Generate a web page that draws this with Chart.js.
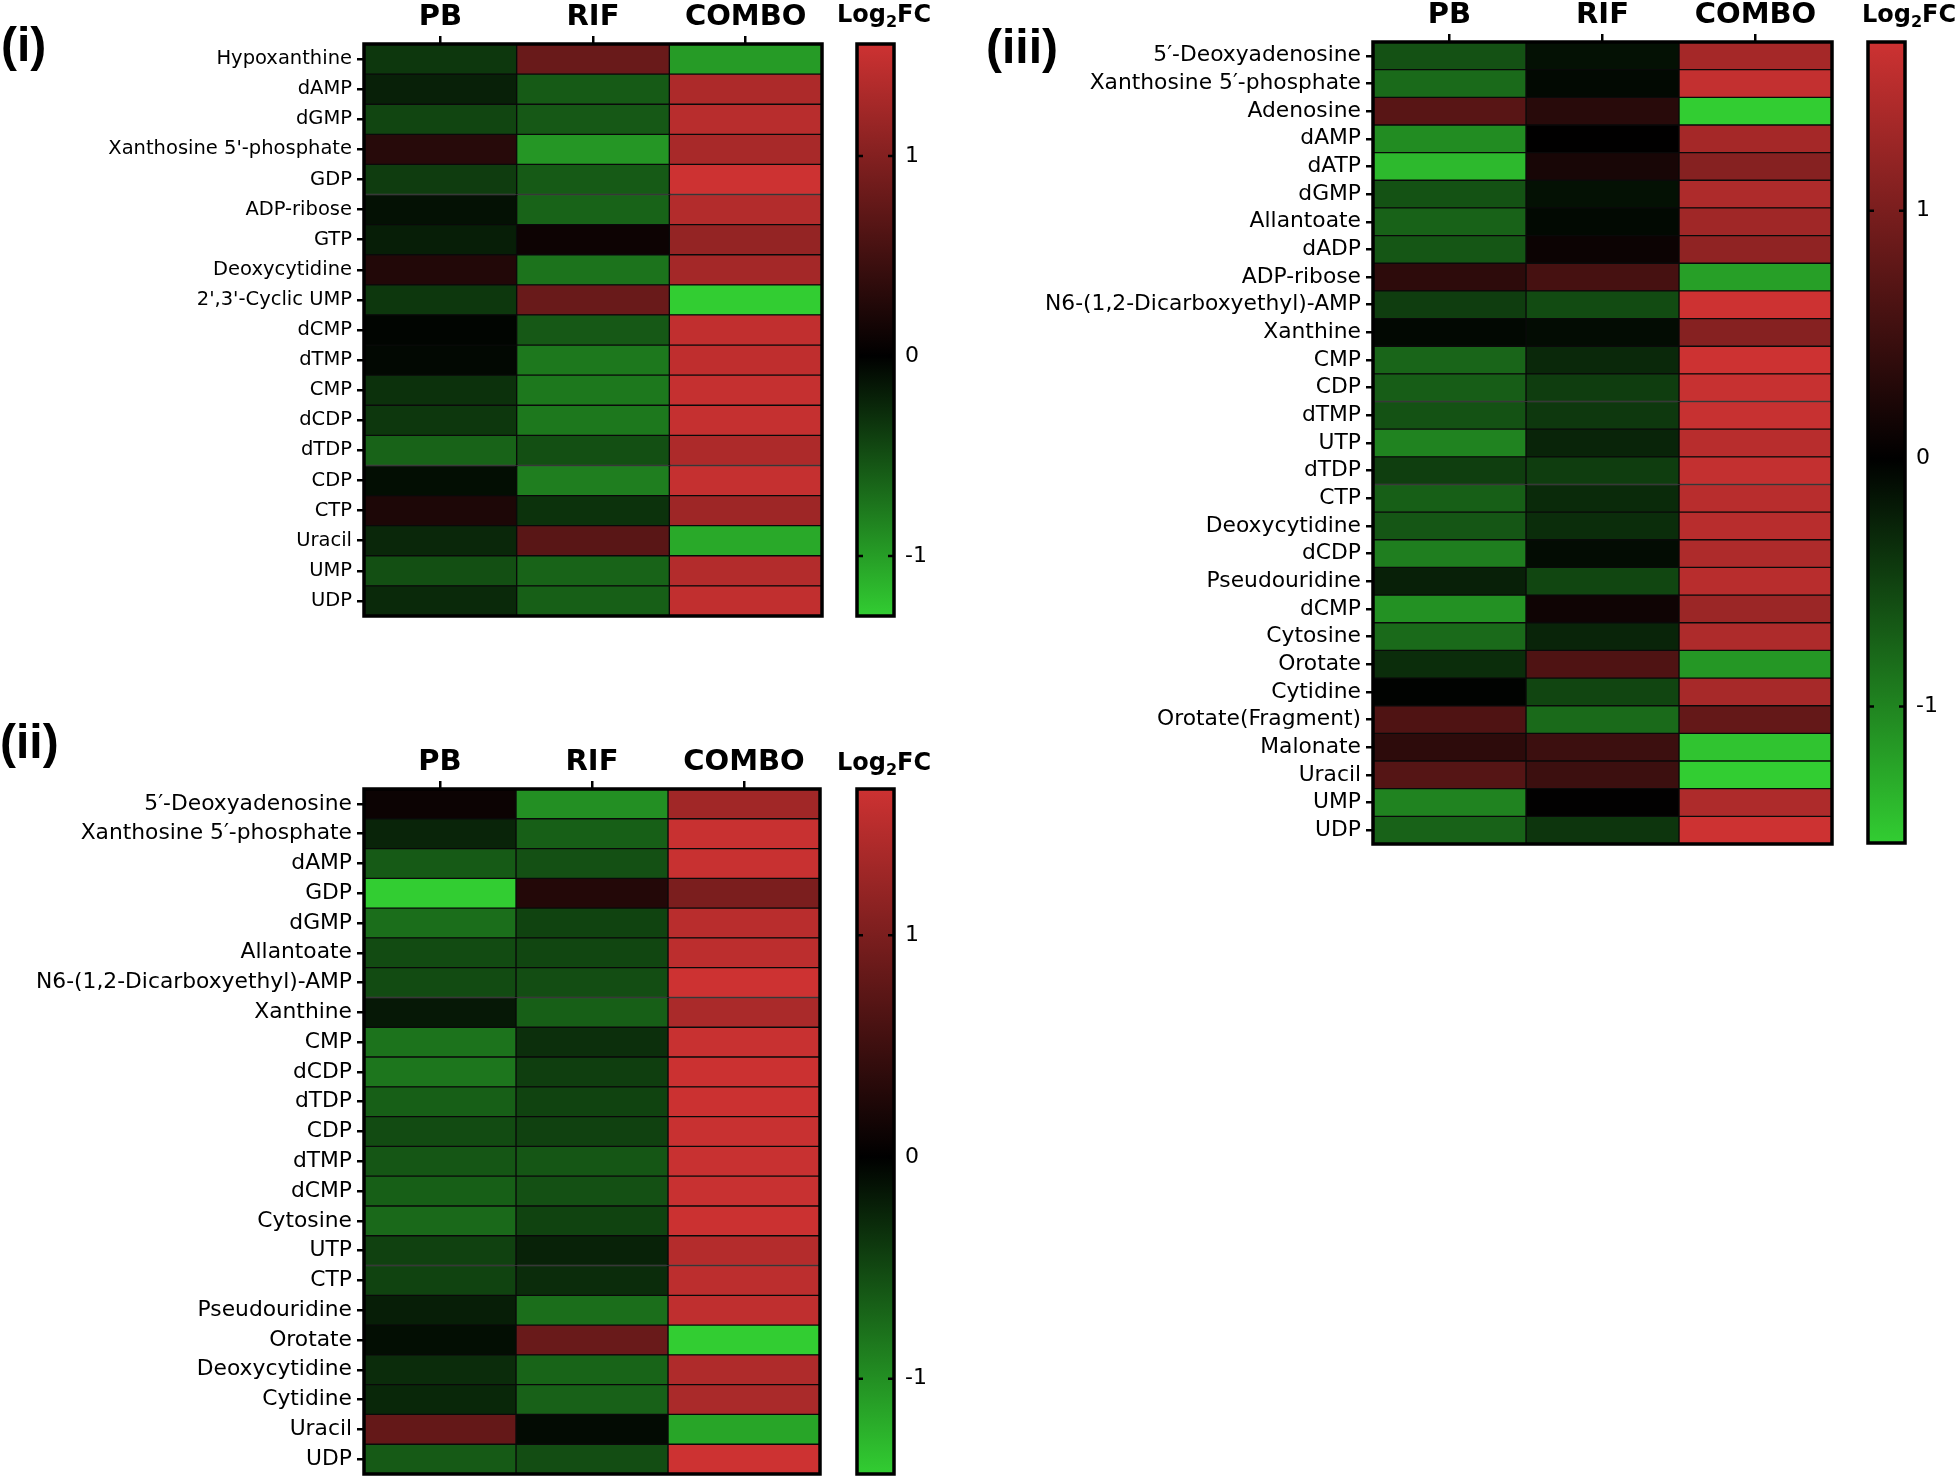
<!DOCTYPE html>
<html>
<head>
<meta charset="utf-8">
<title>Log2FC heatmaps</title>
<script src="https://cdn.jsdelivr.net/npm/chart.js@4.4.1/dist/chart.umd.min.js"></script>
<style>
  html, body { margin: 0; padding: 0; background: #fff; }
  #page { position: relative; width: 1959px; height: 1478px; overflow: hidden; }
  canvas { position: absolute; }
  .tag { position: absolute; font: bold 48px 'Liberation Sans', Arial, sans-serif; line-height: 48px; z-index: 2; }
  .fc { position: absolute; font: bold 24px 'DejaVu Sans', sans-serif; line-height: 24px; z-index: 2; white-space: nowrap; }
  .fc sub { font-size: 16px; vertical-align: -5px; line-height: 0; }
</style>
</head>
<body>
<div id="page">
  <canvas id="heat1" width="826" height="630" style="left:0;top:0"></canvas>
  <canvas id="bar1" width="94" height="630" style="left:850px;top:0"></canvas>
  <canvas id="heat2" width="824" height="738" style="left:0;top:740px"></canvas>
  <canvas id="bar2" width="94" height="738" style="left:850px;top:740px"></canvas>
  <canvas id="heat3" width="836" height="856" style="left:1000px;top:0"></canvas>
  <canvas id="bar3" width="94" height="856" style="left:1861px;top:0"></canvas>

  <div class="tag" style="left:1px;top:21px">(i)</div>
  <div class="tag" style="left:0;top:718px">(ii)</div>
  <div class="tag" style="left:986px;top:23px">(iii)</div>
  <div class="fc" style="left:837px;top:2px">Log<sub>2</sub>FC</div>
  <div class="fc" style="left:837px;top:750px">Log<sub>2</sub>FC</div>
  <div class="fc" style="left:1862px;top:2px">Log<sub>2</sub>FC</div>
</div>
<script>
// columns shared by all three panels
const columns = ['PB', 'RIF', 'COMBO'];
const barTicks = [-1, 0, 1];

// panel (i)
const rows1 = ['Hypoxanthine', 'dAMP', 'dGMP', "Xanthosine 5'-phosphate", 'GDP', 'ADP-ribose', 'GTP',
  'Deoxycytidine', "2',3'-Cyclic UMP", 'dCMP', 'dTMP', 'CMP', 'dCDP', 'dTDP', 'CDP', 'CTP', 'Uracil', 'UMP', 'UDP'];
const pb1 = [-0.35, -0.2, -0.44, 0.3, -0.38, -0.11, -0.19, 0.26, -0.35, -0.03, -0.05, -0.31, -0.35, -0.63, -0.09, 0.22, -0.25, -0.5, -0.26];
const rif1 = [0.8, -0.57, -0.56, -0.95, -0.57, -0.63, 0.1, -0.73, 0.8, -0.56, -0.76, -0.76, -0.76, -0.5, -0.8, -0.32, 0.68, -0.63, -0.6];
const combo1 = [-0.98, 1.32, 1.4, 1.28, 1.56, 1.36, 1.13, 1.25, -1.3, 1.47, 1.45, 1.5, 1.5, 1.32, 1.5, 1.2, -1.07, 1.36, 1.47];
const range1 = [-1.3, 1.56];

// panel (ii)
const rows2 = ['5′-Deoxyadenosine', 'Xanthosine 5′-phosphate', 'dAMP', 'GDP', 'dGMP', 'Allantoate',
  'N6-(1,2-Dicarboxyethyl)-AMP', 'Xanthine', 'CMP', 'dCDP', 'dTDP', 'CDP', 'dTMP', 'dCMP', 'Cytosine', 'UTP',
  'CTP', 'Pseudouridine', 'Orotate', 'Deoxycytidine', 'Cytidine', 'Uracil', 'UDP'];
const pb2 = [0.1, -0.25, -0.63, -1.43, -0.77, -0.52, -0.52, -0.17, -0.8, -0.82, -0.66, -0.52, -0.6, -0.66, -0.73, -0.45, -0.47, -0.21, -0.1, -0.31, -0.27, 0.81, -0.63];
const rif2 = [-1.0, -0.66, -0.56, 0.28, -0.47, -0.49, -0.54, -0.66, -0.33, -0.43, -0.47, -0.45, -0.6, -0.56, -0.47, -0.24, -0.31, -0.77, 0.85, -0.7, -0.68, -0.08, -0.54];
const combo2 = [1.3, 1.62, 1.62, 1.0, 1.5, 1.52, 1.66, 1.38, 1.62, 1.64, 1.64, 1.62, 1.62, 1.62, 1.64, 1.46, 1.52, 1.55, -1.43, 1.42, 1.38, -1.15, 1.66];
const range2 = [-1.43, 1.66];

// panel (iii)
const rows3 = ['5′-Deoxyadenosine', 'Xanthosine 5′-phosphate', 'Adenosine', 'dAMP', 'dATP', 'dGMP', 'Allantoate',
  'dADP', 'ADP-ribose', 'N6-(1,2-Dicarboxyethyl)-AMP', 'Xanthine', 'CMP', 'CDP', 'dTMP', 'UTP', 'dTDP', 'CTP',
  'Deoxycytidine', 'dCDP', 'Pseudouridine', 'dCMP', 'Cytosine', 'Orotate', 'Cytidine', 'Orotate(Fragment)',
  'Malonate', 'Uracil', 'UMP', 'UDP'];
const pb3 = [-0.61, -0.8, 0.72, -1.06, -1.4, -0.62, -0.74, -0.65, 0.37, -0.46, -0.06, -0.76, -0.7, -0.62, -0.99, -0.47, -0.72, -0.65, -0.95, -0.24, -1.1, -0.8, -0.34, -0.02, 0.65, 0.37, 0.7, -0.99, -0.74];
const rif3 = [-0.13, -0.07, 0.33, 0.01, 0.2, -0.13, -0.07, 0.1, 0.57, -0.57, -0.09, -0.3, -0.46, -0.42, -0.27, -0.46, -0.32, -0.34, -0.09, -0.53, 0.12, -0.27, 0.65, -0.52, -0.8, 0.49, 0.49, 0.02, -0.4];
const combo3 = [1.35, 1.6, -1.55, 1.35, 1.1, 1.43, 1.31, 1.18, -1.2, 1.68, 1.1, 1.68, 1.63, 1.63, 1.51, 1.6, 1.51, 1.51, 1.43, 1.51, 1.27, 1.43, -1.14, 1.37, 0.82, -1.48, -1.55, 1.43, 1.68];
const range3 = [-1.55, 1.68];

const RED = [205, 50, 50];
const GREEN = [50, 205, 50];

Chart.defaults.font.family = "'DejaVu Sans', sans-serif";
Chart.defaults.color = '#000';

// green -> black -> red, black sits at 0
function heatColor(v, lo, hi) {
  const c = v >= 0 ? RED : GREEN;
  const t = Math.min(1, v >= 0 ? v / hi : v / lo);
  return `rgb(${Math.round(c[0] * t)},${Math.round(c[1] * t)},${Math.round(c[2] * t)})`;
}

// no extra room for the end labels, the plot area is set by hand
function noEdgePadding(s) {
  s.paddingTop = 0;
  s.paddingBottom = 0;
  s.paddingLeft = 0;
  s.paddingRight = 0;
}

// thick black frame round the plot area
const framePlugin = {
  id: 'frame',
  afterDatasetsDraw(chart) {
    const { ctx, chartArea: a } = chart;
    ctx.save();
    ctx.strokeStyle = '#000';
    ctx.lineWidth = 3.5;
    ctx.strokeRect(a.left, a.top, a.right - a.left, a.bottom - a.top);
    ctx.restore();
  }
};

// little inward dashes on both sides of the colour bar
const barTickPlugin = {
  id: 'barTicks',
  afterDatasetsDraw(chart) {
    const { ctx, chartArea: a, scales } = chart;
    ctx.save();
    ctx.strokeStyle = '#000';
    ctx.lineWidth = 2.5;
    scales.y.ticks.forEach((t) => {
      const y = scales.y.getPixelForValue(t.value);
      ctx.beginPath();
      ctx.moveTo(a.left, y); ctx.lineTo(a.left + 6, y);
      ctx.moveTo(a.right - 6, y); ctx.lineTo(a.right, y);
      ctx.stroke();
    });
    ctx.restore();
  }
};

function drawHeatmap(id, rows, values, range, opts) {
  const [lo, hi] = range;
  return new Chart(document.getElementById(id), {
    type: 'bar',
    data: {
      labels: rows,
      datasets: columns.map((col, j) => ({
        label: col,
        data: rows.map(() => [j, j + 1]),
        backgroundColor: values[j].map((v) => heatColor(v, lo, hi)),
        borderColor: '#0a0a0a',
        borderWidth: 1,
        borderSkipped: false,
        grouped: false,
        barPercentage: 1,
        categoryPercentage: 1
      }))
    },
    options: {
      indexAxis: 'y',
      responsive: false,
      animation: false,
      devicePixelRatio: 1,
      events: [],
      layout: { padding: { left: 0, top: 0, right: 4, bottom: opts.bottom } },
      plugins: { legend: { display: false }, tooltip: { enabled: false } },
      scales: {
        x: {
          type: 'linear',
          position: 'top',
          min: 0,
          max: 3,
          afterBuildTicks: (s) => { s.ticks = [0.5, 1.5, 2.5].map((v) => ({ value: v })); },
          afterFit: (s) => { s.height = opts.top; noEdgePadding(s); },
          ticks: {
            callback: (v) => columns[Math.floor(v)],
            font: { size: 29, weight: 'bold' },
            color: '#000',
            padding: 1,
            maxRotation: 0
          },
          grid: { drawOnChartArea: false, tickLength: 8, color: '#000', lineWidth: 2.5 },
          border: { display: false }
        },
        y: {
          afterFit: (s) => { s.width = opts.left; noEdgePadding(s); },
          ticks: { font: { size: opts.font }, color: '#000', padding: 5, autoSkip: false },
          grid: { offset: false, drawOnChartArea: false, tickLength: 7, color: '#000', lineWidth: 2.5 },
          border: { display: false }
        }
      }
    },
    plugins: [framePlugin]
  });
}

function drawColorbar(id, range, opts) {
  const [lo, hi] = range;
  return new Chart(document.getElementById(id), {
    type: 'bar',
    data: {
      labels: ['Log2FC'],
      datasets: [{
        data: [[lo, hi]],
        backgroundColor: (c) => {
          const { chart } = c;
          if (!chart.chartArea) return '#000';
          const y = chart.scales.y;
          const g = chart.ctx.createLinearGradient(0, y.getPixelForValue(lo), 0, y.getPixelForValue(hi));
          g.addColorStop(0, `rgb(${GREEN.join(',')})`);
          g.addColorStop((0 - lo) / (hi - lo), '#000');
          g.addColorStop(1, `rgb(${RED.join(',')})`);
          return g;
        },
        borderWidth: 0,
        barPercentage: 1,
        categoryPercentage: 1
      }]
    },
    options: {
      responsive: false,
      animation: false,
      devicePixelRatio: 1,
      events: [],
      layout: { padding: { left: 7, top: opts.top, right: 0, bottom: opts.bottom } },
      plugins: { legend: { display: false }, tooltip: { enabled: false } },
      scales: {
        x: { display: false },
        y: {
          position: 'right',
          min: lo,
          max: hi,
          afterBuildTicks: (s) => { s.ticks = barTicks.map((v) => ({ value: v })); },
          afterFit: (s) => { s.width = 50; noEdgePadding(s); },
          ticks: { callback: (v) => String(v), font: { size: 22 }, color: '#000', padding: 11 },
          grid: { display: false, drawTicks: false },
          border: { display: false }
        }
      }
    },
    plugins: [framePlugin, barTickPlugin]
  });
}

drawHeatmap('heat1', rows1, [pb1, rif1, combo1], range1, { left: 364, top: 44, bottom: 14, font: 19.5 });
drawColorbar('bar1', range1, { top: 44, bottom: 14 });

drawHeatmap('heat2', rows2, [pb2, rif2, combo2], range2, { left: 364, top: 49, bottom: 4, font: 21.8 });
drawColorbar('bar2', range2, { top: 49, bottom: 4 });

drawHeatmap('heat3', rows3, [pb3, rif3, combo3], range3, { left: 373, top: 42, bottom: 12, font: 21.8 });
drawColorbar('bar3', range3, { top: 42, bottom: 13 });
</script>
</body>
</html>
